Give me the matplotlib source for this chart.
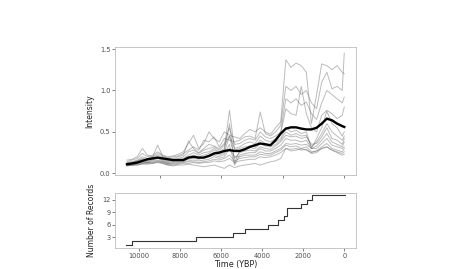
import numpy as np
import matplotlib
matplotlib.use("Agg")
import matplotlib.pyplot as plt

# Time grid (years BP)
time = [10600, 10350, 10100, 9850, 9600, 9350, 9100, 8850, 8600, 8350, 8100,
        7850, 7600, 7350, 7100, 6850, 6600, 6350, 6100, 5850, 5600, 5350,
        5100, 4850, 4600, 4350, 4100, 3850, 3600, 3350, 3100, 2850, 2600,
        2350, 2100, 1850, 1600, 1350, 1100, 850, 600, 350, 100, 0]

s1 = [0.14,0.16,0.18,0.24,0.2,0.22,0.26,0.22,0.2,0.21,0.23,
      0.26,0.36,0.46,0.3,0.36,0.5,0.42,0.38,0.5,0.46,0.44,
      0.42,0.48,0.53,0.5,0.55,0.5,0.47,0.55,0.62,1.37,1.28,
      1.33,1.3,1.22,0.6,0.95,1.32,1.3,1.25,1.3,1.22,1.2]
s2 = [0.16,0.17,0.2,0.3,0.22,0.2,0.24,0.21,0.19,0.2,0.21,
      0.24,0.28,0.32,0.28,0.4,0.38,0.44,0.32,0.42,0.4,0.38,
      0.4,0.44,0.45,0.42,0.74,0.48,0.45,0.5,0.58,1.05,1.0,
      1.05,0.95,1.0,0.85,0.78,1.1,1.22,1.02,1.05,1.0,1.45]
s3 = [0.13,0.14,0.16,0.2,0.18,0.2,0.34,0.2,0.18,0.18,0.2,
      0.22,0.39,0.3,0.25,0.3,0.35,0.33,0.3,0.36,0.55,0.35,
      0.36,0.4,0.42,0.4,0.5,0.44,0.42,0.45,0.5,0.9,0.85,
      0.9,0.82,0.86,0.72,0.65,0.85,1.0,0.95,0.9,0.85,0.92]
s4 = [0.12,0.13,0.15,0.18,0.17,0.19,0.22,0.19,0.16,0.17,0.18,
      0.2,0.26,0.28,0.24,0.28,0.3,0.32,0.28,0.34,0.45,0.3,
      0.32,0.36,0.38,0.36,0.45,0.4,0.38,0.42,0.48,0.78,0.72,
      0.7,1.05,0.72,0.55,0.5,0.7,0.76,0.72,0.66,0.7,0.8]
s5 = [0.12,0.13,0.15,0.17,0.16,0.18,0.2,0.17,0.15,0.16,0.17,
      0.18,0.22,0.25,0.22,0.25,0.26,0.3,0.26,0.3,0.76,0.28,
      0.3,0.32,0.33,0.32,0.4,0.36,0.34,0.38,0.42,0.55,0.5,
      0.52,0.48,0.5,0.3,0.42,0.55,0.75,0.6,0.55,0.45,0.5]
s6 = [0.11,0.12,0.14,0.16,0.15,0.17,0.19,0.16,0.14,0.15,0.16,
      0.17,0.2,0.22,0.2,0.22,0.24,0.28,0.24,0.27,0.6,0.12,
      0.28,0.3,0.31,0.3,0.36,0.33,0.32,0.35,0.4,0.5,0.46,
      0.48,0.45,0.46,0.32,0.38,0.48,0.6,0.5,0.45,0.4,0.45]
s7 = [0.1,0.11,0.13,0.15,0.14,0.16,0.18,0.15,0.13,0.14,0.15,
      0.16,0.19,0.2,0.18,0.2,0.22,0.25,0.22,0.25,0.45,0.18,
      0.25,0.27,0.28,0.27,0.32,0.3,0.29,0.33,0.38,0.46,0.44,
      0.45,0.42,0.44,0.35,0.36,0.44,0.55,0.42,0.4,0.35,0.42]
s8 = [0.1,0.1,0.12,0.14,0.13,0.15,0.16,0.14,0.12,0.13,0.14,
      0.15,0.17,0.18,0.17,0.19,0.2,0.22,0.2,0.23,0.35,0.1,
      0.22,0.24,0.25,0.25,0.3,0.27,0.27,0.3,0.34,0.42,0.4,
      0.4,0.38,0.4,0.3,0.33,0.4,0.48,0.38,0.35,0.32,0.38]
s9 = [0.11,0.11,0.12,0.13,0.13,0.14,0.15,0.14,0.12,0.12,0.13,
      0.14,0.15,0.16,0.15,0.16,0.17,0.2,0.18,0.2,0.3,0.2,
      0.2,0.22,0.22,0.22,0.26,0.24,0.24,0.27,0.3,0.36,0.35,
      0.36,0.34,0.35,0.3,0.3,0.36,0.42,0.34,0.32,0.3,0.32]
s10 = [0.1,0.1,0.11,0.12,0.12,0.13,0.14,0.13,0.11,0.11,0.12,
       0.13,0.14,0.14,0.13,0.14,0.15,0.17,0.16,0.18,0.22,0.15,
       0.18,0.19,0.2,0.2,0.23,0.22,0.22,0.25,0.28,0.34,0.32,
       0.33,0.3,0.32,0.26,0.27,0.32,0.36,0.3,0.28,0.26,0.3]
s11 = [0.09,0.1,0.1,0.11,0.11,0.12,0.13,0.12,0.1,0.1,0.11,
       0.12,0.12,0.13,0.12,0.13,0.13,0.15,0.14,0.15,0.18,0.13,
       0.15,0.16,0.17,0.17,0.2,0.19,0.2,0.22,0.25,0.3,0.29,
       0.3,0.28,0.29,0.24,0.25,0.3,0.32,0.28,0.26,0.24,0.26]
s12 = [0.09,0.1,0.1,0.12,0.13,0.12,0.14,0.12,0.1,0.09,0.1,
       0.1,0.11,0.1,0.09,0.08,0.09,0.1,0.08,0.06,0.1,0.07,
       0.09,0.1,0.11,0.12,0.1,0.12,0.14,0.15,0.18,0.3,0.27,
       0.28,0.3,0.28,0.25,0.27,0.3,0.32,0.28,0.25,0.22,0.23]
gray_series = [s1, s2, s3, s4, s5, s6, s7, s8, s9, s10, s11, s12]

mean_line = [0.11,0.12,0.13,0.15,0.17,0.18,0.19,0.18,0.17,0.16,0.16,
             0.16,0.19,0.20,0.19,0.19,0.21,0.24,0.25,0.27,0.28,0.27,
             0.27,0.29,0.32,0.34,0.36,0.35,0.34,0.40,0.48,0.54,0.555,
             0.555,0.54,0.53,0.53,0.55,0.60,0.66,0.64,0.60,0.57,0.56]

# Number of records (step function)
rec_time = [10630, 10375, 7250, 5410, 4840, 3720, 3214, 2920, 2806, 2115, 1833, 1560, -30]
rec_count = [1, 2, 3, 4, 5, 6, 7, 8, 10, 11, 12, 13, 13]

top_yticks = [0.0, 0.5, 1.0, 1.5]
top_xticks = [9000, 6000, 3000, 0]
bot_xticks = [10000, 8000, 6000, 4000, 2000, 0]
bot_yticks = [3, 6, 9, 12]

frame_col = "#bdbdbd"
tick_col = "#4d4d4d"

fig = plt.figure(figsize=(4.52, 2.69), dpi=100)
ax1 = fig.add_axes([0.255, 0.3494, 0.5325, 0.477])
ax2 = fig.add_axes([0.255, 0.0781, 0.5325, 0.2045])

for s in gray_series:
    ax1.plot(time, s, color="#555555", lw=0.7, alpha=0.4)
ax1.plot(time, mean_line, color="black", lw=1.7)

ax2.step(rec_time, rec_count, where="post", color="#333333", lw=0.8)

xlim = (11170, -570)
for ax in (ax1, ax2):
    ax.set_xlim(*xlim)
    for sp in ax.spines.values():
        sp.set_color(frame_col)
        sp.set_linewidth(0.6)
    ax.tick_params(axis="both", colors=tick_col, labelsize=4.8, length=2,
                   width=0.5, pad=1.5)
    ax.set_facecolor("white")

ax1.set_ylim(-0.02, 1.528)
ax1.set_yticks(top_yticks)
ax1.set_yticklabels(["0.0", "0.5", "1.0", "1.5"])
ax1.set_xticks(top_xticks)
ax1.set_xticklabels([])
ax1.set_ylabel("Intensity", fontsize=5.5, color="#222222", labelpad=4)

ax2.set_ylim(0.4, 13.6)
ax2.set_yticks(bot_yticks)
ax2.set_xticks(bot_xticks)
ax2.set_xticklabels([str(v) for v in bot_xticks])
ax2.set_ylabel("Number of Records", fontsize=5.5, color="#222222", labelpad=4)
ax2.set_xlabel("Time (YBP)", fontsize=5.8, color="#222222", labelpad=1)

fig.savefig("out.png", dpi=100)
